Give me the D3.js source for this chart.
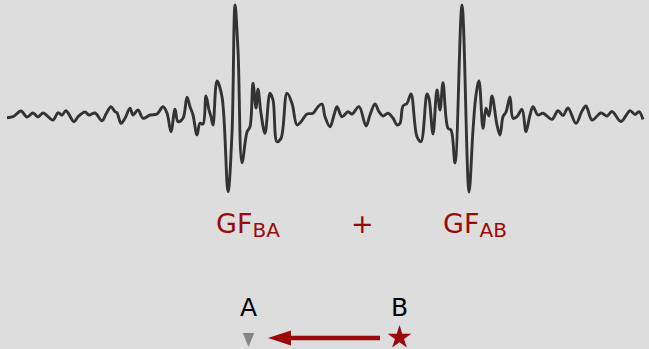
<!DOCTYPE html>
<html>
<head>
<meta charset="utf-8">
<script src="https://cdn.jsdelivr.net/npm/d3@7"></script>
<style>
  html, body { margin: 0; padding: 0; background: #dddddd; }
  svg { display: block; }
</style>
</head>
<body>
<div id="chart"></div>
<script>
// cross-correlation trace: lag (samples) and amplitude (arbitrary units)
const lag = [
  -318, -312, -304, -298, -292, -287, -282, -272, -267, -263, -259, -251, -247, -240,
  -236, -230, -223, -219, -214, -210, -208, -204, -200, -195, -192, -187, -182, -175,
  -168, -162, -158, -154, -150, -147, -142, -138, -135, -132, -128, -125, -122, -119,
  -116, -114, -112, -108, -103, -97, -93, -90, -87, -83, -78, -75, -72, -69,
  -67, -64, -60, -55, -52, -48, -44, -38, -33, -28, -24, -18, -12, -7,
  -3, 0, 5, 9, 12, 17, 23, 27, 34, 41, 45, 50, 54, 58,
  63, 68, 72, 75, 78, 82, 86, 92, 96, 102, 104, 108, 112, 115,
  118, 123, 126, 130, 137, 144, 148, 151, 154, 158, 161, 164, 167, 172,
  175, 178, 181, 185, 188, 192, 197, 201, 205, 208, 213, 218, 227, 233,
  238, 243, 251, 257, 261, 267, 276, 282, 287, 296, 305, 310, 314, 318
];
const amp = [
  -1.7, -0.7, 5, -1, 3, -1, 3, -4, 3.3, 1, 5.3, -5.7, -0.7, 4,
  1, 3, -4.7, 2, 9.3, 4.3, 3.3, -7.3, -2.3, 7.7, 1, 6, -2.3, 1,
  2, 9.3, 3, -15.7, 6.7, -5.7, -2.3, 18.7, 9.3, 1, -19, -7.3, -8, 20,
  6, -0.7, -9, 35, 19.3, -75.7, -17, 111, 66, -46.7, -16, -10.7, 32.7, 8,
  26.7, 2.7, -17.3, 22.7, 16, -25.7, -22.3, 22.7, 12.7, -9, -5.7, 2, 2.7, 9.3,
  12, -0.7, -10.7, 1, 9.3, -0.7, 4.3, 2, 9.3, -10, 1, 12, 4.3, 0,
  2.7, -2, -9, -7.3, 10, 12.7, 22, -20.7, -25.7, 22, 17.7, -18, 26, 6,
  33.3, -12.3, -14, -47, 111, -76, -14, 21, 35, -12.3, 7.7, 0, 20, -9,
  -19, -0.7, 4, 19, -2.3, -0.7, 6.7, -15.7, 1, 9.3, 1, 2.7, -3.3, 5.3,
  0.5, 8, -7.3, 5, 10, -4, 3, 0, 4.5, -5.5, 5.3, 1.5, 4.3, -3.5
];

const termLabels = ["GF", "+", "GF"];
const termSubs = ["BA", "", "AB"];
const stationNames = ["A", "B"];

const width = 649;
const height = 349;

const svg = d3.select("#chart")
  .append("svg")
  .attr("width", width)
  .attr("height", height)
  .attr("viewBox", [0, 0, width, height]);

svg.append("rect")
  .attr("width", width)
  .attr("height", height)
  .attr("fill", "#dddddd");

const x = d3.scaleLinear()
  .domain([-318, 318])
  .range([7, 643]);

const y = d3.scaleLinear()
  .domain([-76, 111])
  .range([192, 5]);

const trace = lag.map((d, i) => [d, amp[i]]);

const line = d3.line()
  .x((d) => x(d[0]))
  .y((d) => y(d[1]))
  .curve(d3.curveCatmullRom.alpha(0.5));

svg.append("path")
  .datum(trace)
  .attr("fill", "none")
  .attr("stroke", "#333333")
  .attr("stroke-width", 2.9)
  .attr("stroke-linejoin", "round")
  .attr("d", line);

// term labels under the trace
const red = "#9b0a0a";
const labelFont = "'DejaVu Sans', sans-serif";
const labelX = [216, 351, 443];

termLabels.forEach((t, i) => {
  const txt = svg.append("text")
    .attr("x", labelX[i])
    .attr("y", 233)
    .attr("fill", red)
    .attr("font-family", labelFont)
    .attr("font-size", 27)
    .text(t);
  if (termSubs[i]) {
    txt.append("tspan")
      .attr("dy", 4)
      .attr("font-size", 20)
      .text(termSubs[i]);
  }
});

// stations
const stationX = [248.5, 399.5];

svg.selectAll("text.station")
  .data(stationNames)
  .join("text")
  .attr("class", "station")
  .attr("x", (d, i) => stationX[i])
  .attr("y", 316)
  .attr("text-anchor", "middle")
  .attr("fill", "#000")
  .attr("font-family", labelFont)
  .attr("font-size", 25)
  .text((d) => d);

// receiver A: gray down triangle
svg.append("path")
  .attr("d", d3.line()([[stationX[0] - 5.7, 333], [stationX[0] + 5.7, 333], [stationX[0], 347]]) + "Z")
  .attr("fill", "#858585");

// arrow from B to A
svg.append("line")
  .attr("x1", 380)
  .attr("x2", 286)
  .attr("y1", 338)
  .attr("y2", 338)
  .attr("stroke", red)
  .attr("stroke-width", 4.5);

svg.append("path")
  .attr("d", d3.line()([[268, 338], [291, 330.5], [291, 345.5]]) + "Z")
  .attr("fill", red);

// source B: star
svg.append("path")
  .attr("transform", `translate(${stationX[1]}, 337.5)`)
  .attr("d", d3.symbol(d3.symbolStar, 175)())
  .attr("fill", red);
</script>
</body>
</html>
